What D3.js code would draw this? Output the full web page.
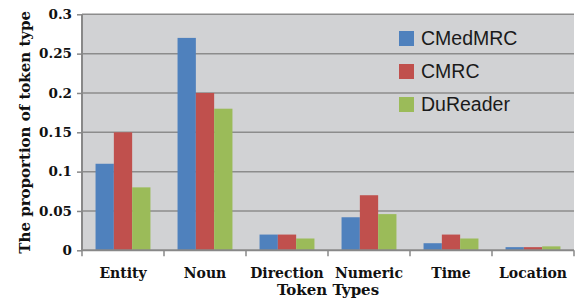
<!DOCTYPE html>
<html><head><meta charset="utf-8">
<script src="https://cdn.jsdelivr.net/npm/d3@7"></script>
<style>body{margin:0;background:#fff}svg{display:block}</style>
</head><body><svg id="c" width="579" height="301"></svg>
<script>
const categories = ["Entity","Noun","Direction","Numeric","Time","Location"];
const seriesNames = ["CMedMRC","CMRC","DuReader"];
const CMedMRC = [0.11,0.27,0.02,0.042,0.009,0.004];
const CMRC = [0.15,0.20,0.02,0.07,0.02,0.004];
const DuReader = [0.08,0.18,0.015,0.046,0.015,0.005];
const yTicks = [0,0.05,0.1,0.15,0.2,0.25,0.3];
const yTickLabels = ["0","0.05","0.1","0.15","0.2","0.25","0.3"];
const colors = ["#4f81bd","#c0504d","#9bbb59"];
const values = [CMedMRC, CMRC, DuReader];

const svg = d3.select("#c");
const L=82, R=574, T=14.3, B=250.3;
const x = d3.scaleBand().domain(categories).range([L,R]).padding(0);
const xi = d3.scaleBand().domain(seriesNames).range([0,x.bandwidth()]).paddingInner(0).paddingOuter(0.74);
const y = d3.scaleLinear().domain([0,0.3]).range([B,T]);
const serif = "'DejaVu Serif', serif";

svg.append("rect").attr("x",L).attr("y",T).attr("width",R-L).attr("height",B-T).attr("fill","#d1d2d4");
// gridlines
svg.append("g").selectAll("line").data(yTicks.slice(1)).join("line")
  .attr("x1",L).attr("x2",R).attr("y1",d=>y(d)).attr("y2",d=>y(d))
  .attr("stroke","#8c8c8c").attr("stroke-width",1.5);
// bars
seriesNames.forEach((s,si)=>{
  svg.append("g").selectAll("rect").data(categories).join("rect")
    .attr("x",c=>x(c)+xi(s)).attr("width",xi.bandwidth())
    .attr("y",(c,i)=>y(values[si][i])).attr("height",(c,i)=>B-y(values[si][i]))
    .attr("fill",colors[si]);
});
// y axis
const ya = svg.append("g").attr("transform",`translate(${L},0)`)
  .call(d3.axisLeft(y).tickValues(yTicks).tickFormat((d,i)=>yTickLabels[i]).tickSize(5).tickPadding(5));
ya.select(".domain").attr("stroke","#888").attr("stroke-width",2).attr("d",`M0,${T}V${B}`);
ya.selectAll(".tick line").attr("stroke","#888").attr("stroke-width",1.5);
ya.selectAll("text").attr("font-family",serif).attr("font-weight","bold").attr("font-size",13.5).attr("fill","#111");
// x axis
const xa = svg.append("g").attr("transform",`translate(0,${B})`)
  .call(d3.axisBottom(x).tickSize(0).tickPadding(18));
xa.select(".domain").attr("stroke","#888").attr("stroke-width",2).attr("d",`M${L},0H${R}`);
xa.selectAll("text").attr("font-family",serif).attr("font-weight","bold").attr("font-size",14).attr("fill","#111");
const bounds = categories.map(c=>x(c)).concat([R]);
xa.append("g").selectAll("line").data(bounds).join("line")
  .attr("x1",d=>d).attr("x2",d=>d).attr("y1",0).attr("y2",6)
  .attr("stroke","#888").attr("stroke-width",1.5);
// titles
svg.append("text").attr("x",(L+R)/2).attr("y",295).attr("text-anchor","middle")
  .attr("font-family",serif).attr("font-weight","bold").attr("font-size",15).attr("fill","#111").text("Token Types");
svg.append("text").attr("transform",`translate(30,${(T+B)/2}) rotate(-90)`).attr("text-anchor","middle")
  .attr("font-family",serif).attr("font-weight","bold").attr("font-size",15).attr("fill","#111").text("The proportion of token type");
// legend
const lg = svg.append("g");
seriesNames.forEach((s,i)=>{
  const yy = 31 + i*33;
  lg.append("rect").attr("x",399).attr("y",yy).attr("width",15).attr("height",15).attr("fill",colors[i]);
  lg.append("text").attr("x",421).attr("y",yy+14).attr("font-family","'Liberation Sans', Arial, sans-serif")
    .attr("font-size",19.5).attr("fill","#1a1a1a").text(s);
});
</script></body></html>
